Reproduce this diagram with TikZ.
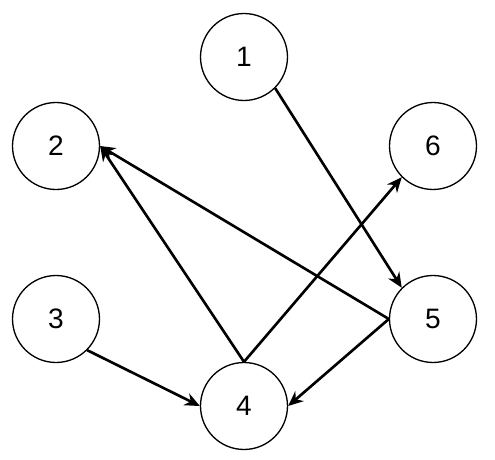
\documentclass[tikz,border=0pt]{standalone}
\usepackage{fontspec}
\setmainfont{Liberation Sans}
\usepackage{xcolor}
\usepackage{tikz}
\usetikzlibrary{
  arrows.meta,
  shapes.geometric,
  positioning
}
\definecolor{grLine}{HTML}{000000}
\definecolor{grFill}{HTML}{FFFFFF}
\tikzset{
  vertex/.style={
    draw=grLine, circle, fill=grFill, line width=0.75pt,
    minimum size=1.74cm, inner sep=0pt,
    font=\fontsize{16}{19}\selectfont
  },
  edge/.style={-{Stealth[length=3mm, width=2.6mm]}, line width=1.5pt, grLine}
}

\begin{document}
\begin{tikzpicture}[x=0.02cm, y=-0.02cm]
  \useasboundingbox (0,0) rectangle (495,460);
  \node[vertex] (v1) at (244,57) {1};
  \node[vertex] (v2) at (56,146) {2};
  \node[vertex] (v6) at (433,146) {6};
  \node[vertex] (v3) at (56,319) {3};
  \node[vertex] (v5) at (433,319) {5};
  \node[vertex] (v4) at (244,406) {4};
  \draw[edge] (v1.south east) -- (v5.north west);
  \draw[edge] (v5.west) -- (v2.east);
  \draw[edge] (v4.north) -- (v2.east);
  \draw[edge] (v4.north) -- (v6.south west);
  \draw[edge] (v3.south east) -- (v4.west);
  \draw[edge] (v5.west) -- (v4.east);
\end{tikzpicture}
\end{document}
